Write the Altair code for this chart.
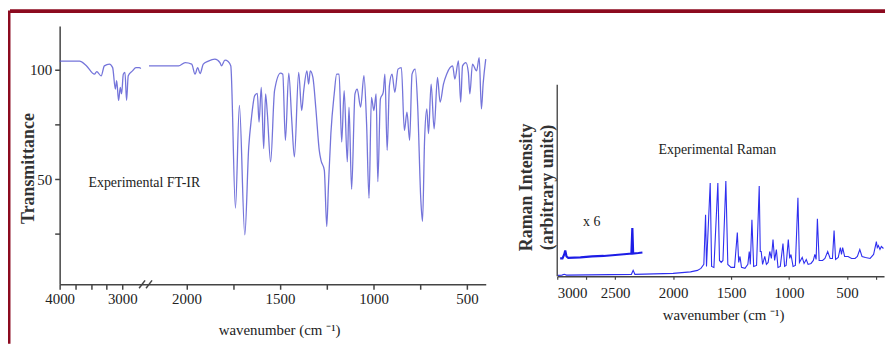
import altair as alt
import pandas as pd

# ---------------- data ----------------
# FT-IR, high-wavenumber piece (before the axis break)
ir_hi_wn = [4000, 3683, 3577, 3444, 3408, 3338, 3286, 3206, 3154, 3111, 3090, 3059, 3032,
            3011, 2984, 2957, 2932, 2905, 2837, 2783, 2730, 2703]
ir_hi_t = [104, 104, 102, 98, 99.2, 97.2, 101.8, 102.6, 101, 91.2, 95, 86, 92,
           89, 98, 98.8, 86, 97.3, 99.5, 101, 101, 100.6]

# FT-IR, fingerprint piece (after the axis break)
ir_lo_wn = [2202, 2042, 2007, 1972, 1954, 1940, 1927, 1910, 1883, 1848, 1821, 1813, 1794,
            1777, 1763, 1738, 1717, 1688, 1667, 1653, 1635, 1621, 1612, 1600, 1587, 1577,
            1568, 1550, 1529, 1497, 1485, 1471, 1453, 1437, 1423, 1400, 1384, 1373, 1356,
            1347, 1338, 1324, 1308, 1290, 1281, 1263, 1250, 1241, 1228, 1210, 1197, 1184,
            1170, 1157, 1140, 1131, 1117, 1099, 1087, 1069, 1051, 1037, 1024, 1011, 998,
            986, 977, 963, 948, 939, 927, 915, 901, 886, 869, 851, 835, 821, 807, 794, 777,
            764, 747, 738, 727, 715, 706, 692, 676, 658, 644, 626, 609, 591, 577, 565, 546,
            534, 524, 506, 493, 485, 471, 449, 435, 423, 414, 400]
ir_lo_t = [101.8, 101.8, 103.3, 102.6, 98, 101, 98.3, 102.6, 104, 104.9, 103.3, 101.8, 104.4,
           103.8, 101.8, 36.8, 83.7, 24.6, 64.7, 77.6, 88.2, 89.2, 76.1, 92, 64, 89,
           80.6, 57.9, 90.5, 98.5, 98, 67.8, 98.5, 76.9, 60.2, 98.8, 81.4, 90.5, 99.5,
           93.5, 99.5, 96.5, 82.1, 63.2, 58.7, 54.2, 28.4, 46.6, 70.8, 89, 98, 98,
           67, 90.5, 57.9, 82.9, 45.4, 89, 91.2, 82.9, 97.3, 75.4, 41.3, 87.4, 81.4,
           89, 48.9, 86.7, 89.7, 98, 63.2, 92.7, 98, 89.7, 100.3, 101, 72.3, 80.6, 67.8, 98, 100.3,
           83.7, 40.5, 30.7, 67.8, 82.1, 70.8, 93.5, 73, 96.5, 85.2, 93.5, 98, 101, 101.8, 95.8, 104.1,
           85.2, 101.8, 103.3, 98.8, 89, 102.6, 99.5, 105.6, 82.1, 93.5, 104.9]

# Raman, main trace (arbitrary intensity)
raman_wn = [3000, 2960, 2940, 2920, 2360, 2345, 2330, 2000, 1850, 1790, 1760, 1735, 1720, 1712,
            1680, 1668, 1648, 1614, 1600, 1585, 1570, 1545, 1528, 1500, 1470, 1446, 1434, 1423,
            1410, 1380, 1355, 1343, 1334, 1320, 1305, 1280, 1257, 1248, 1240, 1228, 1209, 1195,
            1180, 1166, 1152, 1138, 1124, 1109, 1095, 1075, 1052, 1038, 1025, 1006, 994, 983,
            965, 945, 923, 910, 886, 870, 851, 835, 810, 790, 777, 766, 755, 740, 710, 690,
            666, 645, 625, 611, 598, 575, 557, 547, 537, 520, 490, 460, 430, 410, 389, 370,
            340, 300, 270, 246, 238, 229, 215, 203, 185]
raman_int = [1, 1.2, 2, 1.2, 2, 6, 2, 3, 4.5, 6, 8, 12, 62, 10,
             94, 10, 9, 94, 16, 14, 16, 96, 12, 9, 9, 44, 14, 20,
             9, 8, 12, 25, 12, 57, 10, 11, 91, 25, 25, 12, 20, 12,
             14, 25, 18, 37, 16, 27, 9, 10, 33, 10, 11, 37, 18, 22,
             10, 11, 79, 14, 19, 13, 17, 12, 13, 16, 22, 17, 58, 16, 16, 18,
             25, 18, 18, 46, 17, 19, 29, 22, 29, 20, 20, 18, 18, 20, 27, 20,
             19, 18, 22, 35, 29, 31, 27, 30, 28]

# Raman, high-wavenumber region magnified x 6
x6_wn = [2975, 2955, 2940, 2931, 2920, 2905, 2800, 2700, 2600, 2500, 2400, 2360, 2352, 2345,
         2300, 2265]
x6_int = [18, 18, 22, 26, 20, 18.5, 19, 20, 20.5, 21.5, 22.5, 23, 48.7, 23, 23.5, 24]

ir_ticks = [4000, 3750, 3500, 3250, 3000, 2000, 1750, 1500, 1250, 1000, 750, 500]
ir_labels = [4000, 3000, 2000, 1500, 1000, 500]
t_ticks = [100, 75, 50, 25]
t_labels = [100, 50]
raman_ticks = [3000, 2750, 2500, 2000, 1500, 1000, 500, 250]
raman_labels = [3000, 2500, 2000, 1500, 1000, 500]

# annotation anchors (data coordinates)
ir_note = pd.DataFrame({"wn": [3540], "T": [48.3], "txt": ["Experimental FT-IR"]})
raman_notes = pd.DataFrame({"wn": [2126, 2777], "I": [127, 55],
                            "txt": ["Experimental  Raman", "x 6"]})
axis_break = pd.DataFrame({"wn": [2732, 2387], "T": [0.2, 0.2], "wn2": [2450, 2184], "T2": [3.8, 3.8]})
raman_yaxis = pd.DataFrame({"wn": [3000], "I": [0], "I2": [193]})

SERIF = "Liberation Serif"
FRAME = "#8c0a1f"
AX = "#444444"
TXT = "#222222"


def label_expr(vals):
    return "indexof([" + ",".join(str(v) for v in vals) + "], datum.value) >= 0 ? datum.label : ''"


ir_df = pd.concat([
    pd.DataFrame({"wn": ir_hi_wn, "T": ir_hi_t, "seg": "hi"}),
    pd.DataFrame({"wn": ir_lo_wn, "T": ir_lo_t, "seg": "lo"}),
])
raman_df = pd.concat([
    pd.DataFrame({"wn": raman_wn, "I": raman_int, "seg": "main"}),
    pd.DataFrame({"wn": x6_wn, "I": x6_int, "seg": "x6"}),
])

# ---------------- FT-IR panel ----------------
xs_ir = alt.Scale(domain=[4000, 2700, 2200, 400], range=[0, 82, 90, 429], nice=False, zero=False)
ys_ir = alt.Scale(domain=[2, 120], nice=False, zero=False)

ir_x_axis = alt.Axis(
    values=ir_ticks, format="d", labelExpr=label_expr(ir_labels), labelOverlap=False,
    labelFlush=False,
    labelFont=SERIF, labelFontSize=15, labelColor=TXT, labelPadding=2,
    tickSize=5, tickColor=AX, tickWidth=1.5, domainColor=AX, domainWidth=1.5, grid=False,
    title="wavenumber (cm ⁻¹)", titleFont=SERIF, titleFontSize=15, titleFontWeight="normal",
    titleColor=TXT, titleX=221, titleY=46, titleBaseline="middle", titleAlign="center")
ir_y_axis = alt.Axis(
    values=t_ticks, format="d", labelExpr=label_expr(t_labels), labelOverlap=False,
    labelFont=SERIF, labelFontSize=15, labelColor=TXT, labelPadding=3,
    tickSize=5, tickColor=AX, tickWidth=1.5, domainColor=AX, domainWidth=1.5, grid=False,
    title="Transmittance", titleFont=SERIF, titleFontSize=18, titleFontWeight="bold",
    titleColor="#333333", titleX=-31, titleY=143, titleBaseline="middle", titleAlign="center")

ir_line = alt.Chart(ir_df).mark_line(color="#5c5cd4", strokeWidth=1.3, opacity=0.85,
                                     interpolate="monotone").encode(
    x=alt.X("wn:Q", scale=xs_ir, axis=ir_x_axis),
    y=alt.Y("T:Q", scale=ys_ir, axis=ir_y_axis),
    detail="seg:N",
)

ir_text = alt.Chart(ir_note).mark_text(align="left", baseline="middle", font=SERIF,
                                       fontSize=14, color=TXT).encode(
    x=alt.X("wn:Q", scale=xs_ir, axis=ir_x_axis),
    y=alt.Y("T:Q", scale=ys_ir, axis=ir_y_axis), text="txt:N")

ir_break = alt.Chart(axis_break).mark_rule(color=AX, strokeWidth=1.5).encode(
    x=alt.X("wn:Q", scale=xs_ir, axis=ir_x_axis),
    y=alt.Y("T:Q", scale=ys_ir, axis=ir_y_axis), x2="wn2:Q", y2="T2:Q")

frame_src = alt.Chart(pd.DataFrame({"k": [0]}))
frame_top = frame_src.mark_rule(color=FRAME, strokeWidth=4).encode(
    x=alt.value(-50), x2=alt.value(831), y=alt.value(-15))
frame_left = frame_src.mark_rule(color=FRAME, strokeWidth=2.5).encode(
    x=alt.value(-50.75), y=alt.value(-15.75), y2=alt.value(320))

ir_panel = alt.layer(ir_line, ir_text, ir_break, frame_top, frame_left).properties(
    width=429, height=260)

# ---------------- Raman panel ----------------
xs_r = alt.Scale(domain=[3000, 180], nice=False, zero=False)
ys_r = alt.Scale(domain=[0, 252], nice=False, zero=False)

r_x_axis = alt.Axis(
    values=raman_ticks, format="d", labelExpr=label_expr(raman_labels), labelOverlap=False,
    labelFont=SERIF, labelFontSize=15, labelColor=TXT, labelPadding=6,
    tickSize=3, tickColor=AX, tickWidth=1.2, domainColor=AX, domainWidth=1.5, grid=False,
    title="wavenumber (cm ⁻¹)", titleFont=SERIF, titleFontSize=15, titleFontWeight="normal",
    titleColor=TXT, titleX=167, titleY=38, titleBaseline="middle", titleAlign="center")
r_y_axis = alt.Axis(
    domain=False, ticks=False, labels=False, grid=False,
    title=["Raman Intensity", "(arbitrary units)"], titleFont=SERIF, titleFontSize=18,
    titleFontWeight="bold", titleColor="#333333", titleX=-31, titleY=162,
    titleBaseline="middle", titleAlign="center", titleLineHeight=21)

raman_line = alt.Chart(raman_df).mark_line().encode(
    x=alt.X("wn:Q", scale=xs_r, axis=r_x_axis),
    y=alt.Y("I:Q", scale=ys_r, axis=r_y_axis),
    color=alt.Color("seg:N", scale=alt.Scale(domain=["main", "x6"], range=["#2f2ff0", "#1c1ce6"]),
                    legend=None),
    strokeWidth=alt.StrokeWidth("seg:N", scale=alt.Scale(domain=["main", "x6"], range=[1.1, 2.2]),
                                legend=None),
)

raman_axis_rule = alt.Chart(raman_yaxis).mark_rule(color="#555555", strokeWidth=1.5).encode(
    x=alt.X("wn:Q", scale=xs_r, axis=r_x_axis),
    y=alt.Y("I:Q", scale=ys_r, axis=r_y_axis), y2="I2:Q")

raman_text = alt.Chart(raman_notes).mark_text(align="left", baseline="middle", font=SERIF,
                                              fontSize=14, color=TXT).encode(
    x=alt.X("wn:Q", scale=xs_r, axis=r_x_axis),
    y=alt.Y("I:Q", scale=ys_r, axis=r_y_axis), text="txt:N")

raman_panel = alt.layer(raman_line, raman_axis_rule, raman_text).properties(width=329, height=252)

chart = alt.hconcat(ir_panel, raman_panel, spacing=72, bounds="flush").properties(
    padding=0, background="white").configure_view(strokeWidth=0)

chart.save("out.html", embed_options={"renderer": "svg", "actions": False})
